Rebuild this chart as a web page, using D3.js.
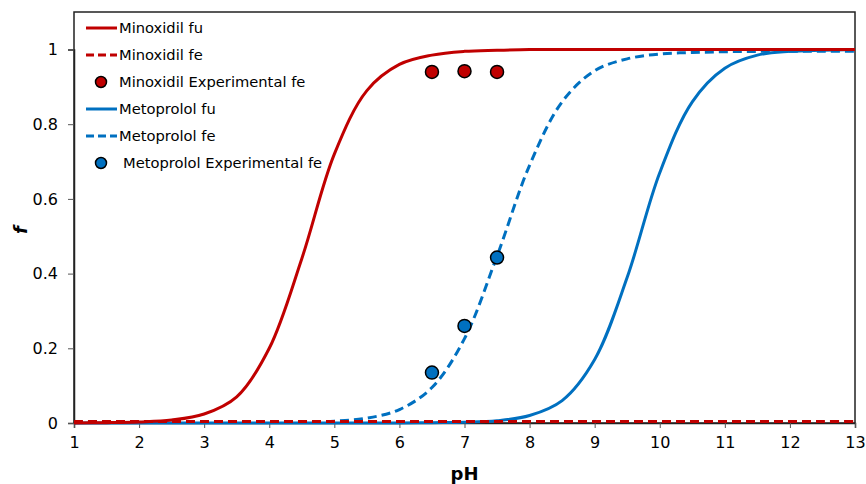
<!DOCTYPE html>
<html>
<head>
<meta charset="utf-8">
<script src="https://cdn.jsdelivr.net/npm/d3@7"></script>
<style>
  body { margin: 0; background: #fff; }
  svg { display: block; }
  text { font-family: "DejaVu Sans", Verdana, sans-serif; fill: #000; }
</style>
</head>
<body>
<svg id="chart" width="866" height="484"></svg>
<script>
// pH grid the curves were read at
var phGrid = [1, 1.5, 2, 2.5, 3, 3.5, 4, 4.5, 5, 5.5, 6, 6.5, 7, 7.5, 8, 8.5, 9, 9.5, 10, 10.5, 11, 11.5, 12, 12.5, 13];

// values
var minoxidilFu  = [0, 0.001, 0.003, 0.008, 0.024, 0.07, 0.20, 0.44, 0.72, 0.89, 0.96, 0.985, 0.995, 0.998, 1, 1, 1, 1, 1, 1, 1, 1, 1, 1, 1];
var minoxidilFe  = [0.004, 0.004, 0.004, 0.004, 0.004, 0.004, 0.004, 0.004, 0.004, 0.004, 0.004, 0.004, 0.004, 0.004, 0.004, 0.004, 0.004, 0.004, 0.004, 0.004, 0.004, 0.004, 0.004, 0.004, 0.004];
var metoprololFu = [0, 0, 0, 0, 0, 0, 0, 0, 0, 0, 0, 0.001, 0.002, 0.006, 0.02, 0.06, 0.17, 0.39, 0.67, 0.86, 0.95, 0.985, 0.995, 0.998, 1];
var metoprololFe = [0.002, 0.002, 0.002, 0.002, 0.002, 0.002, 0.002, 0.003, 0.005, 0.013, 0.036, 0.095, 0.226, 0.447, 0.69, 0.86, 0.943, 0.975, 0.988, 0.992, 0.994, 0.995, 0.995, 0.995, 0.995];

var expPh = [6.5, 7, 7.5];
var minoxidilExp  = [0.94, 0.942, 0.94];
var metoprololExp = [0.135, 0.26, 0.443];

var xTicks = [1, 2, 3, 4, 5, 6, 7, 8, 9, 10, 11, 12, 13];
var yTicks = [0, 0.2, 0.4, 0.6, 0.8, 1];

var legendItems = [
  {label: "Minoxidil fu", color: "#C00000", kind: "line"},
  {label: "Minoxidil fe", color: "#C00000", kind: "dash"},
  {label: "Minoxidil Experimental fe", color: "#C00000", kind: "dot"},
  {label: "Metoprolol fu", color: "#0070C0", kind: "line"},
  {label: "Metoprolol fe", color: "#0070C0", kind: "dash"},
  {label: "Metoprolol Experimental fe", color: "#0070C0", kind: "dot"}
];

var margin = {top: 12, right: 11, bottom: 61, left: 74},
    width = 866 - margin.left - margin.right,
    height = 484 - margin.top - margin.bottom;

var svg = d3.select("#chart");
var g = svg.append("g").attr("transform", "translate(" + margin.left + "," + margin.top + ")");

var x = d3.scaleLinear().domain([1, 13]).range([0, width]);
var y = d3.scaleLinear().domain([0, 1.0]).range([height, 37.5]);

// frame
g.append("rect")
  .attr("width", width).attr("height", height)
  .attr("fill", "none").attr("stroke", "#222").attr("stroke-width", 1.5);

var xAxis = g.append("g")
  .attr("transform", "translate(0," + height + ")")
  .call(d3.axisBottom(x).tickValues(xTicks).tickSize(5).tickPadding(9).tickFormat(d3.format("d")));
var yAxis = g.append("g")
  .call(d3.axisLeft(y).tickValues(yTicks).tickSize(6).tickPadding(10).tickFormat(function(d) { return d === 0 || d === 1 ? d : d.toFixed(1); }));

[xAxis, yAxis].forEach(function(a) {
  a.select(".domain").attr("stroke", "#222").attr("stroke-width", 1.5);
  a.selectAll(".tick line").attr("stroke", "#555");
  a.selectAll("text").attr("font-size", 16).attr("font-family", "DejaVu Sans");
});

function series(vals) {
  return phGrid.map(function(p, i) { return [p, vals[i]]; });
}

var line = d3.line()
  .x(function(d) { return x(d[0]); })
  .y(function(d) { return y(d[1]); })
  .curve(d3.curveCatmullRom.alpha(0.5));

var curves = [
  {vals: metoprololFu, color: "#0070C0", dash: null},
  {vals: metoprololFe, color: "#0070C0", dash: "9,5"},
  {vals: minoxidilFu, color: "#C00000", dash: null},
  {vals: minoxidilFe, color: "#C00000", dash: "9,5"}
];

g.selectAll(".curve")
  .data(curves)
  .enter().append("path")
  .attr("class", "curve")
  .attr("d", function(d) { return line(series(d.vals)); })
  .attr("fill", "none")
  .attr("stroke", function(d) { return d.color; })
  .attr("stroke-width", 3)
  .attr("stroke-dasharray", function(d) { return d.dash; });

function dots(vals, color) {
  g.selectAll(null)
    .data(expPh.map(function(p, i) { return [p, vals[i]]; }))
    .enter().append("circle")
    .attr("cx", function(d) { return x(d[0]); })
    .attr("cy", function(d) { return y(d[1]); })
    .attr("r", 6.5)
    .attr("fill", color)
    .attr("stroke", "#000")
    .attr("stroke-width", 1.5);
}
dots(minoxidilExp, "#C00000");
dots(metoprololExp, "#0070C0");

// legend
var leg = g.append("g").attr("transform", "translate(12,16)");
var row = leg.selectAll("g").data(legendItems).enter().append("g")
  .attr("transform", function(d, i) { return "translate(0," + (i * 27) + ")"; });

row.filter(function(d) { return d.kind !== "dot"; }).append("line")
  .attr("x1", 0).attr("x2", 31)
  .attr("stroke", function(d) { return d.color; })
  .attr("stroke-width", 3)
  .attr("stroke-dasharray", function(d) { return d.kind === "dash" ? "8,4" : null; });

row.filter(function(d) { return d.kind === "dot"; }).append("circle")
  .attr("cx", 15).attr("r", 5.5)
  .attr("fill", function(d) { return d.color; })
  .attr("stroke", "#000").attr("stroke-width", 1.5);

row.append("text")
  .attr("x", function(d, i) { return i === 5 ? 37 : 33; })
  .attr("dy", "0.36em")
  .attr("font-size", 14.7)
  .text(function(d) { return d.label; });

// axis titles
svg.append("text")
  .attr("x", margin.left + width / 2).attr("y", 480)
  .attr("text-anchor", "middle")
  .attr("font-size", 18).attr("font-weight", "bold")
  .text("pH");

svg.append("text")
  .attr("transform", "translate(27,230) rotate(-90)")
  .attr("text-anchor", "middle")
  .attr("font-size", 18).attr("font-weight", "bold").attr("font-style", "italic")
  .text("f");
</script>
</body>
</html>
